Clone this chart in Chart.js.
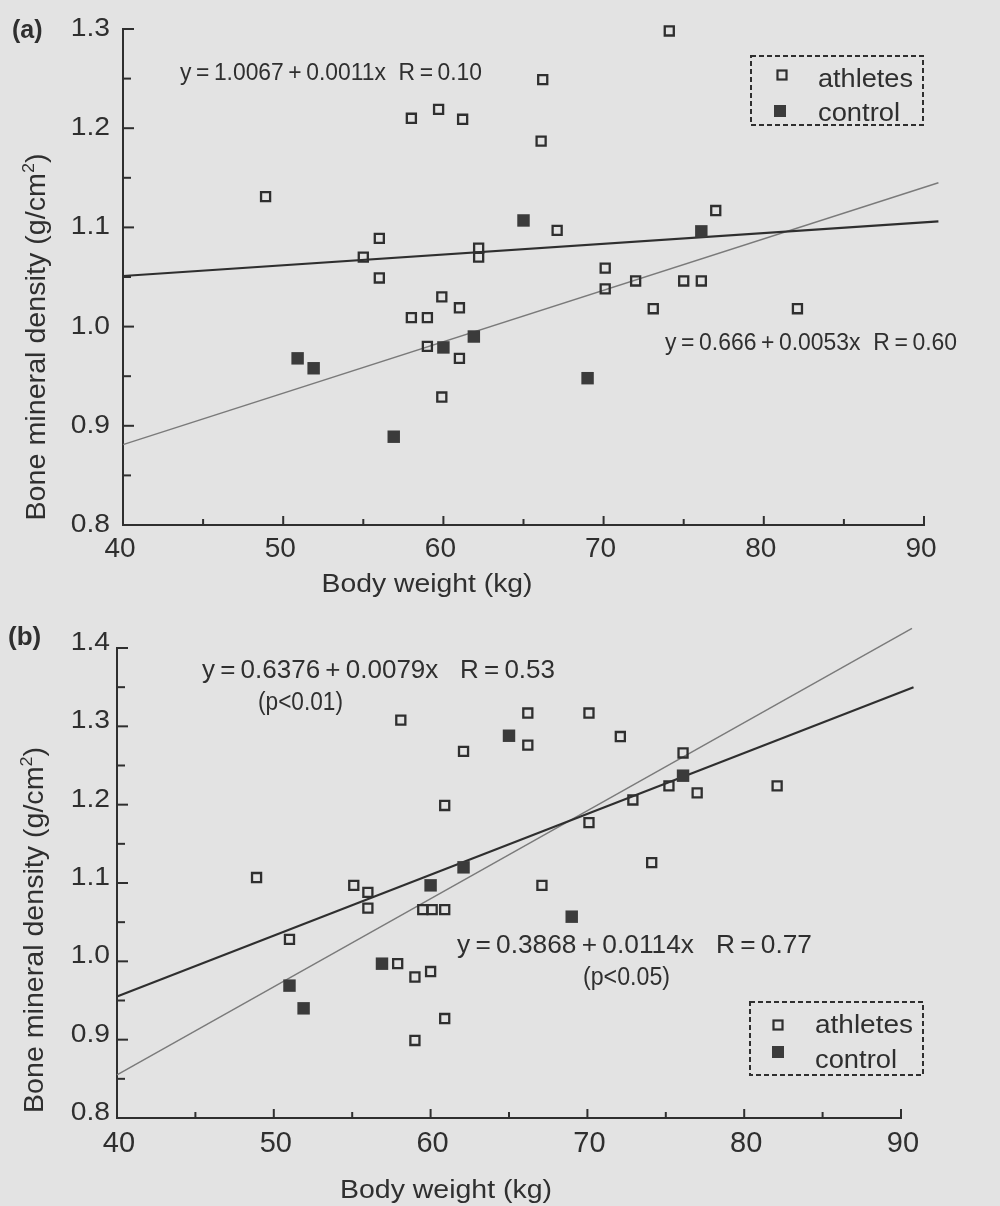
<!DOCTYPE html>
<html>
<head>
<meta charset="utf-8">
<script src="https://cdn.jsdelivr.net/npm/chart.js@4.4.1/dist/chart.umd.min.js"></script>
<style>
  html, body { margin: 0; padding: 0; background: #e3e3e3; }
  body { width: 1000px; height: 1206px; position: relative; overflow: hidden; }
  canvas { position: absolute; left: 0; }
  #chart-a { top: 0; }
  #chart-b { top: 600px; }
</style>
</head>
<body>
<canvas id="chart-a" width="1000" height="600"></canvas>
<canvas id="chart-b" width="1000" height="606"></canvas>
<script>
const INK = "#2f2f2f";
const FONT = '"Liberation Sans", Arial, sans-serif';

// ---------------------------------------------------------------------------
// Data
// ---------------------------------------------------------------------------
const xTickLabels = [40, 50, 60, 70, 80, 90];
const xTickMarks = [45, 50, 55, 60, 65, 70, 75, 80, 85, 90];

const yTickLabelsA = [0.8, 0.9, 1.0, 1.1, 1.2, 1.3];
const yTickMarksA = [0.85, 0.9, 0.95, 1.0, 1.05, 1.1, 1.15, 1.2, 1.25, 1.3];
const yTickLabelsB = [0.8, 0.9, 1.0, 1.1, 1.2, 1.3, 1.4];
const yTickMarksB = [0.85, 0.9, 0.95, 1.0, 1.05, 1.1, 1.15, 1.2, 1.25, 1.3, 1.35, 1.4];

// (a)
const athletesWeightA = [48.9, 58.0, 59.7, 61.2, 66.2, 66.1, 74.1, 77.0, 67.1, 56.0, 55.0, 56.0, 62.2, 62.2,
                         59.9, 61.0, 58.0, 59.0, 59.0, 61.0, 59.9, 70.1, 70.1, 72.0, 75.0, 76.1, 73.1, 82.1];
const athletesBmdA = [1.131, 1.210, 1.219, 1.209, 1.249, 1.187, 1.298, 1.117, 1.097, 1.089, 1.070, 1.049, 1.079, 1.070,
                      1.030, 1.019, 1.009, 1.009, 0.980, 0.968, 0.929, 1.059, 1.038, 1.046, 1.046, 1.046, 1.018, 1.018];
const controlWeightA = [50.9, 51.9, 56.9, 60.0, 61.9, 65.0, 76.1, 69.0];
const controlBmdA = [0.968, 0.958, 0.889, 0.979, 0.990, 1.107, 1.096, 0.948];
const athletesFitWeightA = [40, 90.9];
const athletesFitBmdA = [1.051, 1.106];
const controlFitWeightA = [40, 90.9];
const controlFitBmdA = [0.881, 1.145];

// (b)
const athletesWeightB = [48.9, 58.1, 62.1, 60.9, 55.1, 56.0, 66.2, 70.1, 66.2, 72.1, 76.1, 75.2, 77.0, 82.1,
                         72.9, 70.1, 74.1, 67.1, 56.0, 59.5, 60.1, 60.9, 51.0, 57.9, 59.0, 60.0, 60.9, 59.0];
const athletesBmdB = [1.107, 1.308, 1.268, 1.199, 1.097, 1.088, 1.317, 1.317, 1.276, 1.287, 1.266, 1.224, 1.215, 1.224,
                      1.206, 1.177, 1.126, 1.097, 1.068, 1.066, 1.066, 1.066, 1.028, 0.997, 0.980, 0.987, 0.927, 0.899];
const controlWeightB = [51.0, 51.9, 56.9, 60.0, 62.1, 65.0, 69.0, 76.1];
const controlBmdB = [0.969, 0.940, 0.997, 1.097, 1.120, 1.288, 1.057, 1.237];
const athletesFitWeightB = [40, 90.8];
const athletesFitBmdB = [0.955, 1.350];
const controlFitWeightB = [40, 90.7];
const controlFitBmdB = [0.855, 1.425];

const zip = (xs, ys) => xs.map((x, i) => ({ x, y: ys[i] }));

// ---------------------------------------------------------------------------
// drawing helpers
// ---------------------------------------------------------------------------
function line(ctx, x1, y1, x2, y2) {
  ctx.beginPath(); ctx.moveTo(x1, y1); ctx.lineTo(x2, y2); ctx.stroke();
}

// draw text squeezed/stretched horizontally so it spans `width` px
function fitText(ctx, text, x, y, width, align) {
  const w = ctx.measureText(text).width;
  const sx = width ? width / w : 1;
  ctx.save();
  ctx.translate(x, y);
  ctx.scale(sx, 1);
  ctx.textAlign = align || "left";
  ctx.textBaseline = "alphabetic";
  ctx.fillText(text, 0, 0);
  ctx.restore();
}

function square(ctx, x, y, side, filled) {
  if (filled) {
    ctx.fillRect(x - side / 2, y - side / 2, side, side);
  } else {
    ctx.lineWidth = 2.2;
    ctx.strokeRect(x - side / 2, y - side / 2, side, side);
  }
}

// rotated axis title with a superscript 2
function yTitle(ctx, t) {
  const main = "Bone mineral density (g/cm", sup = "2", tail = ")";
  const big = `${t.size}px ${FONT}`, small = `${Math.round(t.size * 0.62)}px ${FONT}`;
  ctx.font = big;
  const wMain = ctx.measureText(main).width, wTail = ctx.measureText(tail).width;
  ctx.font = small;
  const wSup = ctx.measureText(sup).width;
  const total = wMain + wSup + wTail;
  const sx = t.length / total;

  ctx.save();
  ctx.translate(t.x, t.y);
  ctx.rotate(-Math.PI / 2);
  ctx.scale(sx, 1);
  ctx.textAlign = "left";
  ctx.textBaseline = "alphabetic";
  let cx = -total / 2;
  ctx.font = big; ctx.fillText(main, cx, 0); cx += wMain;
  ctx.font = small; ctx.fillText(sup, cx, -t.size * 0.4); cx += wSup;
  ctx.font = big; ctx.fillText(tail, cx, 0);
  ctx.restore();
}

// ---------------------------------------------------------------------------
// plugin: inward ticks, tick labels, equations, legend box, titles
// ---------------------------------------------------------------------------
const decor = {
  id: "decor",
  afterDraw(chart, args, o) {
    const { ctx, chartArea: area } = chart;
    const xs = chart.scales.x, ys = chart.scales.y;
    ctx.save();
    ctx.strokeStyle = INK;
    ctx.fillStyle = INK;
    ctx.lineWidth = 2;

    for (const v of xTickMarks) {
      const px = xs.getPixelForValue(v);
      line(ctx, px, area.bottom, px, area.bottom - (xTickLabels.includes(v) ? 9 : 6));
    }
    for (const v of o.yMarks) {
      const py = ys.getPixelForValue(v);
      const major = o.yLabels.some((m) => Math.abs(m - v) < 1e-6);
      line(ctx, area.left, py, area.left + (major ? 11 : 8), py);
    }

    // tick labels
    ctx.font = `${o.xLabelSize}px ${FONT}`;
    for (const v of xTickLabels) {
      fitText(ctx, String(v), xs.getPixelForValue(v) + o.xLabelDx, area.bottom + o.xLabelDy, 0, "center");
    }
    ctx.font = `25px ${FONT}`;
    for (const v of o.yLabels) {
      const t = v.toFixed(1);
      fitText(ctx, t, 110, ys.getPixelForValue(v) + o.yLabelDy, ctx.measureText(t).width * 1.13, "right");
    }

    // regression equations
    for (const n of o.notes) {
      ctx.font = `${n.size}px ${FONT}`;
      fitText(ctx, n.text, n.x, n.y, n.width, "left");
    }

    // legend with dotted frame
    const lg = o.legend;
    ctx.save();
    ctx.setLineDash([5, 3]);
    ctx.lineWidth = 2;
    ctx.strokeRect(lg.box[0], lg.box[1], lg.box[2] - lg.box[0], lg.box[3] - lg.box[1]);
    ctx.restore();
    lg.rows.forEach((r, i) => {
      const ds = chart.data.datasets[i];
      ctx.fillStyle = i === 1 ? "#3b3b3b" : INK;
      square(ctx, r.mx, r.my, r.side, i === 1);
      ctx.fillStyle = INK;
      ctx.font = `26px ${FONT}`;
      fitText(ctx, ds.label, r.tx, r.ty, r.tw, "left");
    });

    // titles
    ctx.font = `25px ${FONT}`;
    fitText(ctx, "Body weight (kg)", o.xTitle.x, o.xTitle.y, o.xTitle.width, "center");
    yTitle(ctx, o.yTitle);
    ctx.font = `bold ${o.tag.size}px ${FONT}`;
    fitText(ctx, o.tag.text, o.tag.x, o.tag.y, 0, "left");

    ctx.restore();
  },
};

// ---------------------------------------------------------------------------
function makeChart(id, p) {
  return new Chart(document.getElementById(id), {
    type: "scatter",
    data: {
      datasets: [
        {
          label: "athletes",
          data: zip(p.athX, p.athY),
          pointStyle: "rect",
          pointRadius: 6.4,
          pointBorderWidth: 2.3,
          pointBorderColor: INK,
          pointBackgroundColor: "rgba(0,0,0,0)",
          clip: false,
        },
        {
          label: "control",
          data: zip(p.conX, p.conY),
          pointStyle: "rect",
          pointRadius: 8.8,
          pointBorderWidth: 0,
          pointBackgroundColor: "#3b3b3b",
          clip: false,
        },
        {
          label: "athletes fit",
          data: zip(p.athFitX, p.athFitY),
          showLine: true,
          pointRadius: 0,
          borderColor: INK,
          borderWidth: 2.2,
          clip: false,
        },
        {
          label: "control fit",
          data: zip(p.conFitX, p.conFitY),
          showLine: true,
          pointRadius: 0,
          borderColor: "#7a7a7a",
          borderWidth: 1.4,
          clip: false,
        },
      ],
    },
    options: {
      responsive: false,
      animation: false,
      events: [],
      layout: { padding: { left: 0, top: p.top, right: 1000 - p.right, bottom: 0 } },
      plugins: {
        legend: { display: false },
        tooltip: { enabled: false },
        decor: p.decor,
      },
      scales: {
        x: {
          type: "linear",
          min: xTickLabels[0],
          max: xTickLabels[xTickLabels.length - 1],
          grid: { display: false },
          border: { color: INK, width: 2 },
          ticks: { display: false },
          afterFit: (s) => { s.height = p.height - p.bottom; },
        },
        y: {
          type: "linear",
          min: p.yLabels[0],
          max: p.yLabels[p.yLabels.length - 1],
          grid: { display: false },
          border: { color: INK, width: 2 },
          ticks: { display: false },
          afterFit: (s) => { s.width = p.left; },
        },
      },
    },
    plugins: [decor],
  });
}

makeChart("chart-a", {
  athX: athletesWeightA, athY: athletesBmdA,
  conX: controlWeightA, conY: controlBmdA,
  athFitX: athletesFitWeightA, athFitY: athletesFitBmdA,
  conFitX: controlFitWeightA, conFitY: controlFitBmdA,
  yLabels: yTickLabelsA,
  height: 600, left: 123, right: 924, top: 29, bottom: 525,
  decor: {
    yLabels: yTickLabelsA, yMarks: yTickMarksA,
    xLabelSize: 28, xLabelDx: -3, xLabelDy: 32, yLabelDy: 7,
    notes: [
      { text: "y\u2009=\u20091.0067\u2009+\u20090.0011x  R\u2009=\u20090.10", x: 180, y: 80, size: 23, width: 302 },
      { text: "y\u2009=\u20090.666\u2009+\u20090.0053x  R\u2009=\u20090.60", x: 665, y: 350, size: 23, width: 292 },
    ],
    legend: {
      box: [751, 56, 923, 125],
      rows: [
        { mx: 782, my: 75, side: 9, tx: 818, ty: 87, tw: 95 },
        { mx: 780, my: 111, side: 12, tx: 818, ty: 121, tw: 82 },
      ],
    },
    xTitle: { x: 427, y: 592, width: 211 },
    yTitle: { x: 45, y: 337, size: 27, length: 367 },
    tag: { text: "(a)", x: 12, y: 38, size: 25 },
  },
});

makeChart("chart-b", {
  athX: athletesWeightB, athY: athletesBmdB,
  conX: controlWeightB, conY: controlBmdB,
  athFitX: athletesFitWeightB, athFitY: athletesFitBmdB,
  conFitX: controlFitWeightB, conFitY: controlFitBmdB,
  yLabels: yTickLabelsB,
  height: 606, left: 117, right: 901, top: 48, bottom: 518,
  decor: {
    yLabels: yTickLabelsB, yMarks: yTickMarksB,
    xLabelSize: 29, xLabelDx: 2, xLabelDy: 34, yLabelDy: 2,
    notes: [
      { text: "y\u2009=\u20090.6376\u2009+\u20090.0079x   R\u2009=\u20090.53", x: 202, y: 78, size: 25, width: 353 },
      { text: "(p<0.01)", x: 258, y: 110, size: 25, width: 85 },
      { text: "y\u2009=\u20090.3868\u2009+\u20090.0114x   R\u2009=\u20090.77", x: 457, y: 353, size: 25, width: 355 },
      { text: "(p<0.05)", x: 583, y: 385, size: 25, width: 87 },
    ],
    legend: {
      box: [750, 402, 923, 475],
      rows: [
        { mx: 778, my: 425, side: 9, tx: 815, ty: 433, tw: 98 },
        { mx: 778, my: 452, side: 12, tx: 815, ty: 468, tw: 82 },
      ],
    },
    xTitle: { x: 446, y: 598, width: 212 },
    yTitle: { x: 43, y: 330, size: 27, length: 366 },
    tag: { text: "(b)", x: 8, y: 45, size: 26 },
  },
});
</script>
</body>
</html>
